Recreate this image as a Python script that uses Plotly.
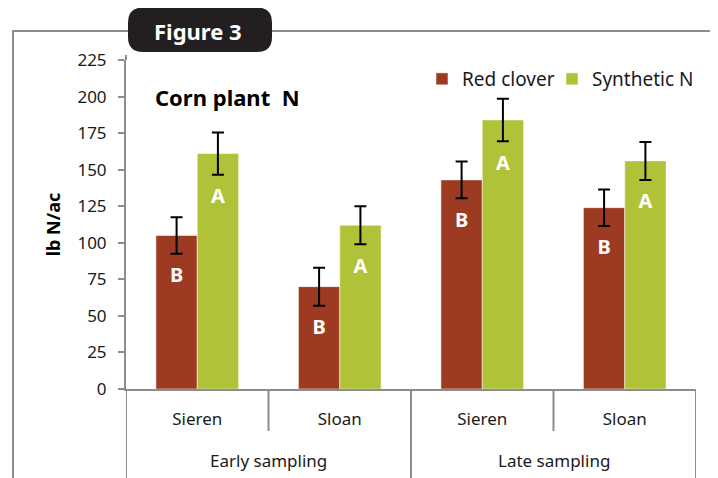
import plotly.graph_objects as go

# ---- data ----
sampling = ["Early sampling", "Early sampling", "Late sampling", "Late sampling"]
sites = ["Sieren", "Sloan", "Sieren", "Sloan"]
red_clover = [105, 70, 143, 124]
red_clover_err = [12.5, 13, 12.5, 12.5]
red_clover_letters = ["B", "B", "B", "B"]
synthetic_n = [161, 112, 184, 156]
synthetic_n_err = [14.5, 13, 14.5, 13]
synthetic_n_letters = ["A", "A", "A", "A"]
y_ticks = [0, 25, 50, 75, 100, 125, 150, 175, 200, 225]

RED = "#9c3a22"
GREEN = "#b0c237"
GREY = "#8c8c8c"
FONT = "Noto Sans"
TXT = "#1a1a1a"

# page has an 8px body margin; lay out in page pixels
OFF = 8
W, H = 718 - OFF, 478 - OFF
PL, PR, PT, PB = 126, 696, 60, 389          # plot area in page pixels
L, R, T, B = PL - OFF, (W + OFF) - PR, PT - OFF, (H + OFF) - PB
PW, PH = PR - PL, PB - PT


def px(x):
    return (x - PL) / PW


def py(y):
    return (PB - y) / PH


xpos = list(range(len(sites)))

fig = go.Figure()
series = [
    ("Red clover", red_clover, red_clover_err, red_clover_letters, RED, "legend"),
    ("Synthetic N", synthetic_n, synthetic_n_err, synthetic_n_letters, GREEN, "legend2"),
]
for name, vals, errs, letters, col, leg in series:
    fig.add_trace(go.Bar(
        name=name, x=xpos, y=vals, legend=leg,
        marker=dict(color=col, line=dict(color="rgba(255,255,255,0.5)", width=1)),
        error_y=dict(type="data", array=errs, color="black", thickness=2, width=6),
        offsetgroup=name,
    ))
for name, vals, errs, letters, col, leg in series:
    fig.add_trace(go.Scatter(
        x=xpos, y=[v - e for v, e in zip(vals, errs)], mode="markers+text",
        marker=dict(size=20, color="rgba(0,0,0,0)"),
        text=letters, textposition="bottom center",
        textfont=dict(color="white", size=20, family=FONT, weight="bold"),
        showlegend=False, hoverinfo="skip", offsetgroup=name,
    ))

# rounded badge path
bx0, bx1, by0, by1, rr = 128, 272, 7.5, 52, 15
def P(x, y):
    return f"{px(x):.5f},{py(y):.5f}"
badge = (f"M {P(bx0+rr, by0)} L {P(bx1-rr, by0)} Q {P(bx1, by0)} {P(bx1, by0+rr)} "
         f"L {P(bx1, by1-rr)} Q {P(bx1, by1)} {P(bx1-rr, by1)} "
         f"L {P(bx0+rr, by1)} Q {P(bx0, by1)} {P(bx0, by1-rr)} "
         f"L {P(bx0, by0+rr)} Q {P(bx0, by0)} {P(bx0+rr, by0)} Z")

shapes = [
    dict(type="line", xref="paper", yref="paper", x0=px(13), x1=px(13), y0=py(490), y1=py(31),
         line=dict(color=GREY, width=2)),
    dict(type="line", xref="paper", yref="paper", x0=px(12), x1=px(730), y0=py(31), y1=py(31),
         line=dict(color=GREY, width=2)),
    dict(type="path", xref="paper", yref="paper", path=badge, fillcolor="#231f20",
         line=dict(width=0)),
    # small extension of the value axis line above the top tick
    dict(type="line", xref="paper", yref="paper", x0=0, x1=0, y0=1, y1=py(55),
         line=dict(color=GREY, width=2)),
]

# category boundaries: inner (between sites) short, outer (between sampling groups) long
bounds = [i - 0.5 for i in xpos] + [xpos[-1] + 0.5]
for bi, b in enumerate(bounds):
    left = sampling[bi - 1] if bi > 0 else None
    right = sampling[bi] if bi < len(sampling) else None
    outer = left != right
    shapes.append(dict(type="line", xref="x", yref="paper", x0=b, x1=b,
                       y0=0, y1=py(490 if outer else 431),
                       line=dict(color=GREY, width=2)))

annotations = [
    dict(text="<b>Figure 3</b>", xref="paper", yref="paper", x=px(198), y=py(31),
         xanchor="center", yanchor="middle", showarrow=False,
         font=dict(family=FONT, size=22, color="white")),
    dict(text="<b>Corn plant  N</b>", xref="paper", yref="paper", x=px(153), y=py(97),
         xanchor="left", yanchor="middle", showarrow=False,
         font=dict(family=FONT, size=22, color="black")),
]
# outer group labels
groups = []
for i, g in enumerate(sampling):
    if not groups or groups[-1][0] != g:
        groups.append([g, []])
    groups[-1][1].append(xpos[i])
for g, members in groups:
    annotations.append(dict(text=g, xref="x", yref="paper", x=sum(members) / len(members),
                            y=py(460), xanchor="center", yanchor="middle", showarrow=False,
                            font=dict(family=FONT, size=17, color=TXT)))

legend_style = dict(orientation="h", yanchor="middle", xanchor="left",
                    font=dict(family=FONT, size=19, color=TXT), bgcolor="rgba(0,0,0,0)")
fig.update_layout(
    width=W, height=H,
    margin=dict(l=L, r=R, t=T, b=B, autoexpand=False),
    paper_bgcolor="white", plot_bgcolor="white",
    barmode="group", bargap=0.42, bargroupgap=0,
    scattermode="group", scattergap=0.42,
    font=dict(family=FONT, size=17, color=TXT),
    showlegend=True,
    legend=dict(x=px(422), y=py(79), **legend_style),
    legend2=dict(x=px(552), y=py(79), **legend_style),
    shapes=shapes, annotations=annotations,
)
fig.update_xaxes(
    range=[-0.5, len(sites) - 0.5], tickvals=xpos, ticktext=sites,
    showline=True, linecolor=GREY, linewidth=2, ticks="",
    tickfont=dict(family=FONT, size=17, color=TXT), ticklabelstandoff=14,
    showgrid=False, zeroline=False,
)
fig.update_yaxes(
    range=[0, 225], tickvals=y_ticks, ticktext=[str(v) for v in y_ticks],
    showline=True, linecolor=GREY, linewidth=2,
    ticks="outside", ticklen=6, tickwidth=2, tickcolor=GREY,
    tickfont=dict(family=FONT, size=17, color=TXT), ticklabelstandoff=8,
    showgrid=False, zeroline=False,
    title=dict(text="<b>lb N/ac</b>", font=dict(family=FONT, size=18, color="black"), standoff=12),
)

fig.write_html("out.html")
